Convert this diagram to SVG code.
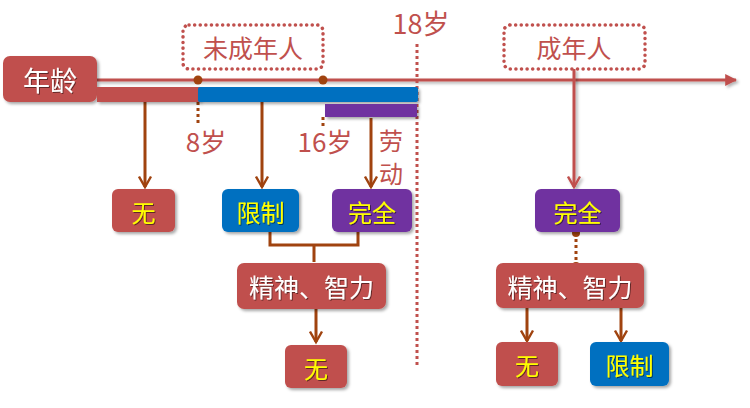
<svg xmlns="http://www.w3.org/2000/svg" width="750" height="408" viewBox="0 0 750 408">
<defs>
<filter id="sh" x="-20%" y="-20%" width="150%" height="160%">
<feDropShadow dx="2" dy="2" stdDeviation="1.5" flood-color="#000" flood-opacity="0.35"/>
</filter>
<filter id="lsh" filterUnits="userSpaceOnUse" x="0" y="0" width="750" height="408">
<feDropShadow dx="2" dy="2" stdDeviation="1.5" flood-color="#000" flood-opacity="0.3"/>
</filter>
<filter id="tsh" x="-20%" y="-20%" width="150%" height="160%">
<feDropShadow dx="1" dy="1" stdDeviation="0.6" flood-color="#000" flood-opacity="0.5"/>
</filter>
<marker id="ab" viewBox="0 0 10 10" refX="8" refY="5" markerWidth="5" markerHeight="5" orient="auto" markerUnits="strokeWidth">
<path d="M1,1 L8,5 L1,9" fill="none" stroke="#A0430F" stroke-width="1.6"/>
</marker>
<marker id="ar" viewBox="0 0 10 10" refX="8" refY="5" markerWidth="5" markerHeight="5" orient="auto" markerUnits="strokeWidth">
<path d="M1,1 L8,5 L1,9" fill="none" stroke="#C0504D" stroke-width="1.6"/>
</marker>
<marker id="at" viewBox="0 0 10 10" refX="9" refY="5" markerWidth="4" markerHeight="4" orient="auto" markerUnits="strokeWidth">
<path d="M0,0 L10,5 L0,10 Z" fill="#C0504D"/>
</marker>
</defs>
<style>
text{font-family:"Noto Sans CJK SC","Microsoft YaHei",sans-serif;text-anchor:middle;dominant-baseline:central}
.red{fill:#C0504D}
.blue{fill:#0070C0}
.pur{fill:#7030A0}
.box{filter:url(#sh)}
.yt{fill:#FFFF00;font-size:24px;filter:url(#tsh)}
.wt{fill:#FFFFFF;font-size:25px;filter:url(#tsh)}
.lbl{fill:#C0504D;font-size:25px}
.brown{stroke:#A0430F;stroke-width:3;fill:none}
.bdot{stroke:#A0430F;stroke-width:3;fill:none;stroke-dasharray:3 3}
.dbox{fill:none;stroke:#C0504D;stroke-width:3.5;stroke-dasharray:0.1 5.5;stroke-linecap:round}
</style>

<g id="connectors">
<line x1="97" y1="80" x2="736" y2="80" stroke="#C0504D" stroke-width="3" marker-end="url(#at)" filter="url(#lsh)"/>
<line x1="417" y1="44" x2="417" y2="368" stroke="#C0504D" stroke-width="3" stroke-dasharray="3 3"/>
<line x1="574" y1="69" x2="574" y2="187" stroke="#C0504D" stroke-width="3" marker-end="url(#ar)" filter="url(#lsh)"/>
<line x1="198" y1="102" x2="198" y2="124" class="bdot"/>
<line x1="323" y1="117" x2="323" y2="126" class="bdot"/>
<line x1="145" y1="102" x2="145" y2="187" class="brown" marker-end="url(#ab)"/>
<line x1="262" y1="102" x2="262" y2="187" class="brown" marker-end="url(#ab)"/>
<line x1="371" y1="118" x2="371" y2="187" class="brown" marker-end="url(#ab)"/>
<path d="M270,232 V245 H358 V232 M314,245 V262" class="brown"/>
<line x1="316" y1="309" x2="316" y2="342" class="brown" marker-end="url(#ab)"/>
<line x1="576" y1="233" x2="576" y2="266" class="bdot"/>
<circle cx="576" cy="233" r="4" fill="#A0430F"/>
<circle cx="576" cy="266" r="4" fill="#A0430F"/>
<line x1="527" y1="308" x2="527" y2="341" class="brown" marker-end="url(#ab)"/>
<line x1="621" y1="308" x2="621" y2="341" class="brown" marker-end="url(#ab)"/>
</g>

<g id="age">
<rect x="3" y="56" width="94" height="46" rx="7" class="red box"/>
<text x="50" y="79" class="wt" style="font-size:27px">年龄</text>
</g>

<g id="bars">
<rect x="97" y="87" width="103" height="15" class="red box"/>
<rect x="198" y="87" width="220" height="15" rx="2" class="blue box"/>
<rect x="325" y="104" width="92" height="13" class="pur box"/>
<circle cx="198" cy="80" r="4.5" fill="#A0430F"/>
<circle cx="323" cy="80" r="4.5" fill="#A0430F"/>
</g>

<g id="minor">
<rect x="183" y="25" width="140" height="44" rx="6" class="dbox"/>
<text x="253" y="47" class="lbl">未成年人</text>
</g>

<g id="adult">
<rect x="504" y="25" width="141" height="44" rx="6" class="dbox"/>
<text x="574" y="47" class="lbl">成年人</text>
</g>

<g id="labels">
<text x="421" y="22" class="lbl" style="font-size:27px">18岁</text>
<text x="206" y="140" class="lbl" style="font-size:26px">8岁</text>
<text x="325" y="140" class="lbl" style="font-size:26px">16岁</text>
<text x="391" y="139" class="lbl" style="font-size:24px">劳</text>
<text x="391" y="172" class="lbl" style="font-size:24px">动</text>
</g>

<g id="n-wu1">
<rect x="112" y="189" width="63" height="43" rx="6" class="red box"/>
<text x="143.5" y="211" class="yt">无</text>
</g>
<g id="n-xianzhi1">
<rect x="222" y="189" width="77" height="43" rx="6" class="blue box"/>
<text x="260.5" y="211" class="yt">限制</text>
</g>
<g id="n-wanquan1">
<rect x="332" y="189" width="80" height="43" rx="6" class="pur box"/>
<text x="372" y="211" class="yt">完全</text>
</g>
<g id="n-jingshen1">
<rect x="237" y="263" width="149" height="46" rx="7" class="red box"/>
<text x="311.5" y="286" class="wt">精神、智力</text>
</g>
<g id="n-wu2">
<rect x="285" y="345" width="62" height="43" rx="6" class="red box"/>
<text x="316" y="367" class="yt">无</text>
</g>
<g id="n-wanquan2">
<rect x="535" y="189" width="85" height="43" rx="6" class="pur box"/>
<text x="577.5" y="211" class="yt">完全</text>
</g>
<g id="n-jingshen2">
<rect x="496" y="263" width="148" height="45" rx="7" class="red box"/>
<text x="570" y="286" class="wt">精神、智力</text>
</g>
<g id="n-wu3">
<rect x="496" y="342" width="62" height="44" rx="6" class="red box"/>
<text x="527" y="364" class="yt">无</text>
</g>
<g id="n-xianzhi2">
<rect x="590" y="342" width="79" height="44" rx="6" class="blue box"/>
<text x="629.5" y="364" class="yt">限制</text>
</g>
</svg>
